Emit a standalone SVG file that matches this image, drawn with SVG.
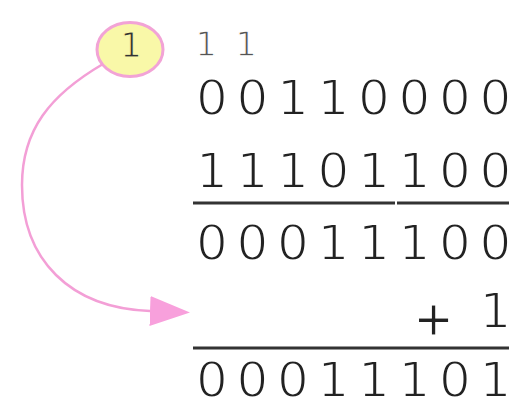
<svg xmlns="http://www.w3.org/2000/svg" width="509" height="406" viewBox="0 0 509 406">
  <style>
    .digits { font-family: "DejaVu Sans", "Liberation Sans", sans-serif; font-size: 50px; fill: #222; stroke: #ffffff; stroke-width: 1.8; text-anchor: middle; }
    .sign { font-family: "Liberation Mono", "Courier New", monospace; font-size: 62px; fill: #222; stroke: #ffffff; stroke-width: 1; text-anchor: middle; }
    .carry { font-family: "DejaVu Sans", "Liberation Sans", sans-serif; font-size: 34px; fill: #555; stroke: #ffffff; stroke-width: 1.3; text-anchor: middle; }
    .rule { stroke: #333; stroke-width: 3; }
    .link { fill: none; stroke: #f39fd6; stroke-width: 2.5; }
    .bubble { fill: #f9f8a8; stroke: #f2a3d6; stroke-width: 3; }
    .bubble-label { font-family: "DejaVu Sans", "Liberation Sans", sans-serif; font-size: 34px; fill: #333; stroke: #f9f8a8; stroke-width: 1.2; text-anchor: middle; }
  </style>
  <defs>
    <marker id="arrow" viewBox="0 0 40 30" refX="0" refY="15" markerWidth="40" markerHeight="30" markerUnits="userSpaceOnUse" orient="auto">
      <path d="M0,0 L40,15 L0,30 Z" fill="#f8a0dc"/>
    </marker>
  </defs>
  <rect width="509" height="406" fill="#ffffff"/>

  <!-- carried bit pointing at the extra +1 -->
  <g id="carry-bubble">
    <ellipse class="bubble" cx="130" cy="49.5" rx="33" ry="27"/>
    <text class="bubble-label" x="131" y="57">1</text>
  </g>

  <g id="connectors">
    <path class="link" d="M103,64 C50,95 22,130 22,185 C22,260 70,308 150,311" marker-end="url(#arrow)"/>
  </g>

  <!-- column addition -->
  <g id="carries">
    <text class="carry" x="206 246" y="56">11</text>
  </g>
  <g id="row-a">
    <text class="digits" x="212 252.5 293 333.5 374 414.5 455 495.5" y="115">00110000</text>
  </g>
  <g id="row-b">
    <text class="digits" x="212 252.5 293 333.5 374 414.5 455 495.5" y="188">11101100</text>
  </g>
  <g id="rule-1">
    <line class="rule" x1="193" y1="203" x2="395" y2="203"/>
    <line class="rule" x1="397" y1="203" x2="509" y2="203"/>
  </g>
  <g id="row-sum">
    <text class="digits" x="212 252.5 293 333.5 374 414.5 455 495.5" y="260">00011100</text>
  </g>
  <g id="row-plus-one">
    <text class="sign" x="433.5" y="340">+</text>
    <text class="digits" x="495.5" y="328">1</text>
  </g>
  <g id="rule-2">
    <line class="rule" x1="193" y1="348" x2="509" y2="348"/>
  </g>
  <g id="row-result">
    <text class="digits" x="212 252.5 293 333.5 374 414.5 455 495.5" y="397">00011101</text>
  </g>
</svg>
